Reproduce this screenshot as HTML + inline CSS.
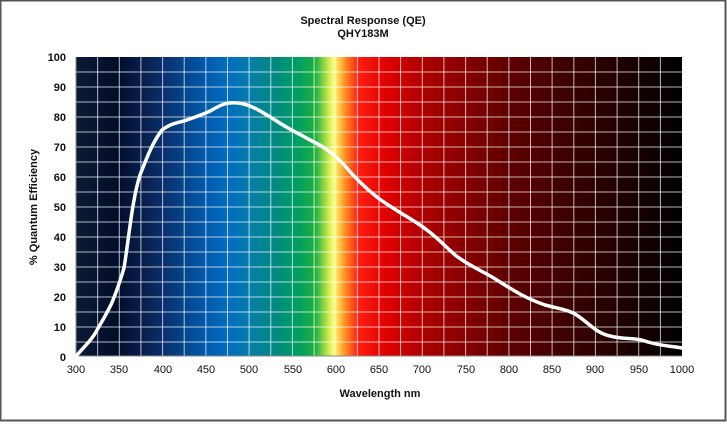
<!DOCTYPE html>
<html><head><meta charset="utf-8"><style>
body{margin:0;width:727px;height:422px;background:#fff;overflow:hidden}
</style></head><body>
<svg width="727" height="422" xmlns="http://www.w3.org/2000/svg" font-family="Liberation Sans, Arial, sans-serif">
<rect x="0.5" y="0.5" width="725" height="420" fill="#fff" stroke="#555" stroke-width="2"/>
<defs>
<linearGradient id="g" x1="0" x2="1" y1="0" y2="0">
<stop offset="0" stop-color="#0b1a35"/>
<stop offset="0.07" stop-color="#020d2a"/>
<stop offset="0.14" stop-color="#0a2c68"/>
<stop offset="0.21" stop-color="#0058a8"/>
<stop offset="0.25" stop-color="#006cc0"/>
<stop offset="0.29" stop-color="#057ea6"/>
<stop offset="0.33" stop-color="#008a80"/>
<stop offset="0.37" stop-color="#00a060"/>
<stop offset="0.395" stop-color="#20b040"/>
<stop offset="0.412" stop-color="#a8dc48"/>
<stop offset="0.425" stop-color="#ffff70"/>
<stop offset="0.445" stop-color="#ff8a20"/>
<stop offset="0.465" stop-color="#ff2010"/>
<stop offset="0.51" stop-color="#e00000"/>
<stop offset="0.57" stop-color="#b00000"/>
<stop offset="0.71" stop-color="#600000"/>
<stop offset="0.86" stop-color="#2c0000"/>
<stop offset="1" stop-color="#000"/>
</linearGradient>
</defs>
<rect x="76" y="57" width="606" height="299" fill="url(#g)"/>
<g stroke="#fff" stroke-opacity="0.7" stroke-width="1">
<path d="M97.6 57V356M119.3 57V356M140.9 57V356M162.6 57V356M184.2 57V356M205.9 57V356M227.5 57V356M249.1 57V356M270.8 57V356M292.4 57V356M314.1 57V356M335.7 57V356M357.4 57V356M379 57V356M400.6 57V356M422.3 57V356M443.9 57V356M465.6 57V356M487.2 57V356M508.9 57V356M530.5 57V356M552.1 57V356M573.8 57V356M595.4 57V356M617.1 57V356M638.7 57V356M660.4 57V356"/>
<path d="M76 72H682M76 87H682M76 102H682M76 117H682M76 132H682M76 147H682M76 162H682M76 177H682M76 192H682M76 207H682M76 222H682M76 237H682M76 252H682M76 267H682M76 282H682M76 297H682M76 312H682M76 327H682M76 342H682"/>
</g>
<path d="M76 57V356H682" fill="none" stroke="#888" stroke-width="1"/>
<path d="M76 356 C86 345,93 338,97 330 C104 318,110 308,113 300 C118 288,121 278,124 268 C129 238,132 200,140 175 C146 160,152 143,162 130 C170 124,176 123,184 121 C195 117,205 114,212 110 C222 104,228 102,238 103 C250 104,262 112,275 120 C290 130,298 133,310 140 C325 147,335 155,345 166 C355 178,368 190,378 198 C395 210,408 217,420 225 C432 233,442 243,455 255 C468 265,480 270,492 277 C510 288,522 297,545 305 C560 309,570 310,578 316 C590 324,596 333,610 336 C625 340,635 337,648 342 C662 346,670 346,682 348" fill="none" stroke="#fff" stroke-width="3.5" stroke-linecap="round"/>
<g font-size="11" font-weight="bold" fill="#111" text-anchor="middle">
<text x="363" y="24">Spectral Response (QE)</text>
<text x="363" y="37">QHY183M</text>
<text x="380" y="397">Wavelength nm</text>
<text transform="translate(37 207) rotate(-90)">% Quantum Efficiency</text>
</g>
<g font-size="11" fill="#111" text-anchor="end" font-weight="bold">
<text x="66" y="61">100</text><text x="66" y="91">90</text><text x="66" y="121">80</text><text x="66" y="151">70</text><text x="66" y="181">60</text><text x="66" y="211">50</text><text x="66" y="241">40</text><text x="66" y="271">30</text><text x="66" y="301">20</text><text x="66" y="331">10</text><text x="66" y="361">0</text>
</g>
<g font-size="11" fill="#111" text-anchor="middle">
<text x="76" y="373">300</text><text x="119" y="373">350</text><text x="163" y="373">400</text><text x="206" y="373">450</text><text x="249" y="373">500</text><text x="293" y="373">550</text><text x="336" y="373">600</text><text x="379" y="373">650</text><text x="422" y="373">700</text><text x="466" y="373">750</text><text x="509" y="373">800</text><text x="552" y="373">850</text><text x="595" y="373">900</text><text x="639" y="373">950</text><text x="682" y="373">1000</text>
</g>
</svg>
</body></html>
